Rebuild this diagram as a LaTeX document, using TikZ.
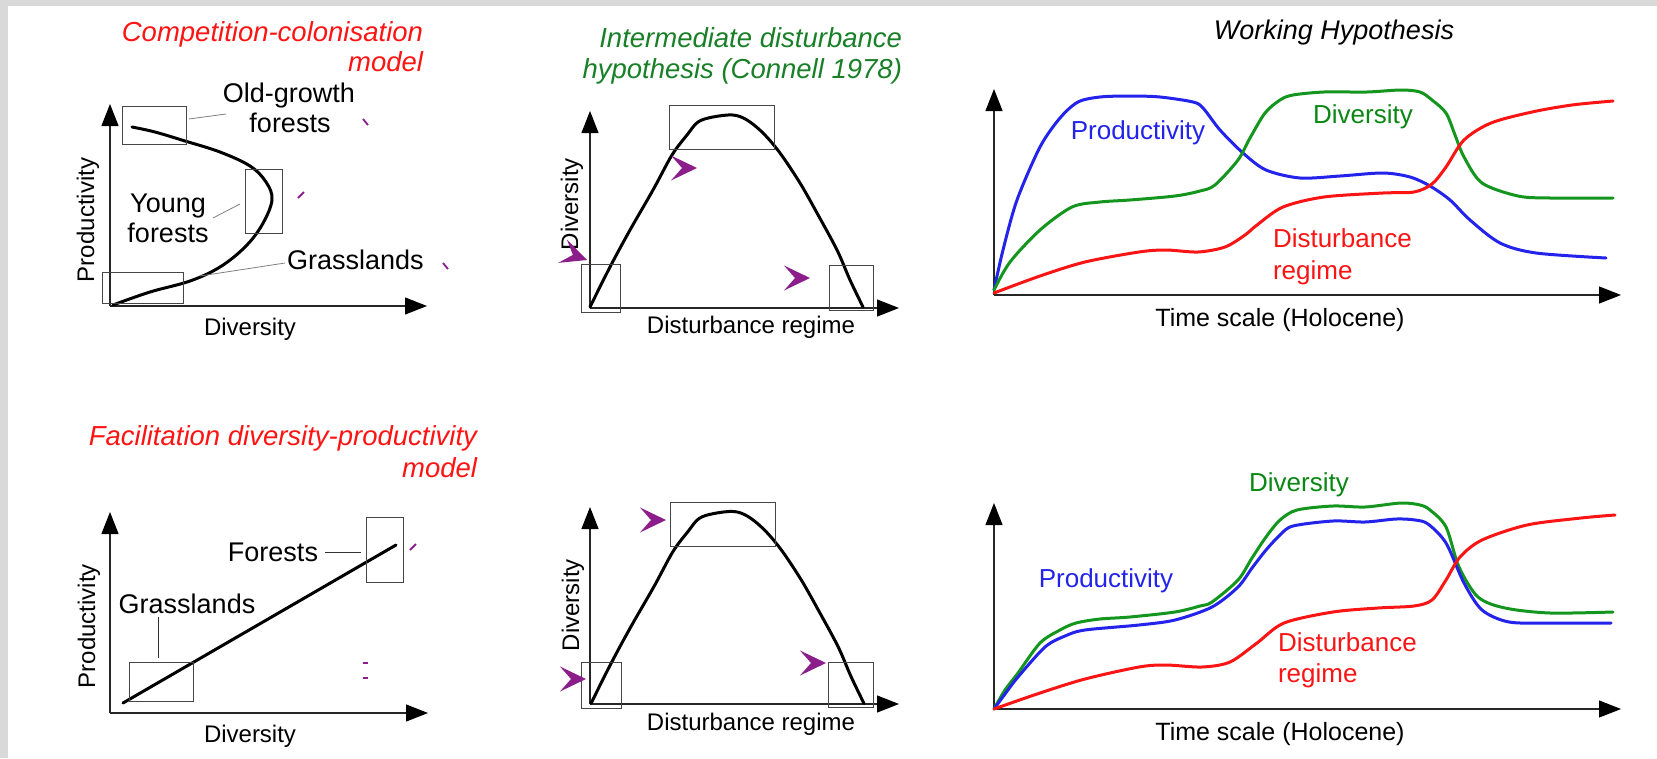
\documentclass[tikz,border=0pt]{standalone}
\usepackage{fontspec}
\setmainfont{Liberation Sans}
\usetikzlibrary{arrows.meta}
\definecolor{bord}{RGB}{217,217,217}
\definecolor{ttlred}{RGB}{255,20,20}
\definecolor{ttlgreen}{RGB}{25,128,40}
\definecolor{purp}{RGB}{140,30,140}
\definecolor{cblue}{RGB}{35,35,235}
\definecolor{cgreen}{RGB}{20,150,30}
\definecolor{cred}{RGB}{250,20,20}
\definecolor{tgreen}{RGB}{10,135,20}
\definecolor{boxgray}{RGB}{70,70,70}
\newcommand\mychev[3]{\fill[purp,shift={(#1,#2)},rotate=#3] (0,0) -- (-26,-12.5) -- (-15,0) -- (-26,12.5) -- cycle;}
\begin{document}
\begin{tikzpicture}[x=1pt,y=-1pt,
 txt/.style={inner sep=0pt,outer sep=0pt},
 ttl/.style={txt,font=\fontsize{27.5}{30}\selectfont\itshape},
 lab/.style={txt,font=\fontsize{27}{30}\selectfont},
 axl/.style={txt,font=\fontsize{24}{28}\selectfont},
 rlab/.style={txt,font=\fontsize{26}{30}\selectfont},
 axis/.style={line width=1.2pt,draw=black!85,-{Triangle[length=22pt,width=17pt,fill=black,color=black]}},
 curve/.style={line width=3pt,line join=round,line cap=round},
 hbox/.style={draw=boxgray,line width=1pt},
 leader/.style={draw=gray,line width=0.8pt},
 tickm/.style={draw=purp,line width=1.8pt}
]
\useasboundingbox (0,0) rectangle (1657,758);
\fill[white] (0,0) rectangle (1657,758);
\fill[bord] (0,0) rectangle (1657,5.7);
\fill[bord] (0,0) rectangle (8,758);

% ---------------- Panel 1: competition-colonisation ----------------
\node[ttl,text=ttlred,anchor=base east] (t1a) at (423,41) {Competition-colonisation};
\node[ttl,text=ttlred,anchor=base east] (t1b) at (423,71) {model};
\coordinate (o1) at (110,306);
\coordinate (y1) at (110,104);
\coordinate (x1) at (427,306);
\draw[axis] (o1) -- (y1);
\draw[axis] (o1) -- (x1);
\draw[curve] plot[smooth,tension=0.6] coordinates {(113,305) (150,292) (190,281) (220,267) (245,247) (262,225) (272,200) (266,182) (250,166) (220,152) (185,141) (155,132) (132,127)};
\draw[hbox] (122,106) rectangle (186,144);
\draw[hbox] (245,169) rectangle (282,233);
\draw[hbox] (102,272) rectangle (183,303);
\node[lab,anchor=base] (og1) at (289,102) {Old-growth};
\node[lab,anchor=base] (og2) at (290,132) {forests};
\node[lab,anchor=base] (yf1) at (168,212) {Young};
\node[lab,anchor=base] (yf2) at (168,242) {forests};
\node[lab,anchor=base west] (gl1) at (287,269) {Grasslands};
\coordinate (la1) at (189,119); \coordinate (la2) at (226,114);
\coordinate (lb1) at (213,218); \coordinate (lb2) at (240,204);
\coordinate (lc1) at (285,263); \coordinate (lc2) at (200,276);
\draw[leader] (la1) -- (la2);
\draw[leader] (lb1) -- (lb2);
\draw[leader] (lc1) -- (lc2);
\node[axl,rotate=90,anchor=base] (p1y) at (94,220) {Productivity};
\node[axl,anchor=base] (p1x) at (250,335) {Diversity};
\draw[tickm] (363,119) -- (368,125);
\draw[tickm] (298,198) -- (304,192);
\draw[tickm] (443,263) -- (448,269);

% ---------------- Panel 2: intermediate disturbance ----------------
\node[ttl,text=ttlgreen,anchor=base east] (t2a) at (902,47) {Intermediate disturbance};
\node[ttl,text=ttlgreen,anchor=base east] (t2b) at (902,78) {hypothesis (Connell 1978)};
\coordinate (o2) at (590,308);
\coordinate (y2) at (590,111);
\coordinate (x2) at (899,308);
\draw[axis] (o2) -- (y2);
\draw[axis] (o2) -- (x2);
\draw[curve] plot[smooth,tension=0.55] coordinates {(590,307) (610,267) (630,230) (653,190) (672,155) (687,135) (698,122) (713,117) (733,115) (747,120) (763,133) (780,153) (800,183) (817,213) (837,250) (850,280) (863,307)};
\draw[hbox] (669,105) rectangle (774,149);
\draw[hbox] (581,264) rectangle (620,312);
\draw[hbox] (829,265) rectangle (873,310);
\node[axl,rotate=90,anchor=base] (p2y) at (578,204) {Diversity};
\node[axl,anchor=base] (p2x) at (751,333) {Disturbance regime};
\mychev{697}{168}{0}
\mychev{587}{260}{-20}
\mychev{810}{278}{0}

% ---------------- Panel 3: working hypothesis ----------------
\node[txt,font=\fontsize{27}{30}\selectfont\itshape,anchor=base] (t3) at (1334,39) {Working Hypothesis};
\coordinate (o3) at (994,295);
\coordinate (y3) at (994,89);
\coordinate (x3) at (1621,295);
\draw[axis] (o3) -- (y3);
\draw[axis] (o3) -- (x3);
\draw[curve,cblue] plot[smooth,tension=0.5] coordinates {(994,290) (1003,250) (1017,200) (1040,147) (1060,118) (1078,102) (1100,97) (1130,96) (1160,97) (1193,102) (1203,108) (1220,130) (1243,153) (1266,170) (1300,178) (1340,176) (1383,173) (1410,177) (1430,186) (1450,200) (1470,220) (1500,243) (1536,253) (1606,258)};
\draw[curve,cgreen] plot[smooth,tension=0.5] coordinates {(994,290) (1010,262) (1040,230) (1072,207) (1100,202) (1130,200) (1175,196) (1200,191) (1215,185) (1238,160) (1250,138) (1265,113) (1280,100) (1293,95) (1324,92) (1367,92) (1401,90) (1420,92) (1432,100) (1446,113) (1455,135) (1464,157) (1482,183) (1518,196) (1550,198) (1613,198)};
\draw[curve,cred] plot[smooth,tension=0.5] coordinates {(994,293) (1040,276) (1085,262) (1139,252) (1166,250) (1198,252) (1225,247) (1245,235) (1257,225) (1283,207) (1324,197) (1383,193) (1414,192) (1432,184) (1446,167) (1464,140) (1491,123) (1532,112) (1572,105) (1613,101)};
\node[rlab,text=cblue,anchor=base] (r1p) at (1138,139) {Productivity};
\node[rlab,text=tgreen,anchor=base] (r1d) at (1363,123) {Diversity};
\node[rlab,text=cred,anchor=base west] (r1s) at (1273,247) {Disturbance};
\node[rlab,text=cred,anchor=base west] (r1r) at (1273,279) {regime};
\node[txt,font=\fontsize{25}{28}\selectfont,anchor=base] (r1x) at (1280,326) {Time scale (Holocene)};

% ---------------- Panel 4: facilitation ----------------
\node[ttl,text=ttlred,anchor=base east] (t4a) at (477,445) {Facilitation diversity-productivity};
\node[ttl,text=ttlred,anchor=base east] (t4b) at (477,477) {model};
\coordinate (o4) at (110,713);
\coordinate (y4) at (110,512);
\coordinate (x4) at (428,713);
\draw[axis] (o4) -- (y4);
\draw[axis] (o4) -- (x4);
\coordinate (ls) at (123,703);
\coordinate (le) at (396,545);
\draw[curve] (ls) -- (le);
\draw[hbox] (129,662) rectangle (193,701);
\draw[hbox] (366,517) rectangle (403,582);
\node[lab,anchor=base east] (fo) at (318,561) {Forests};
\node[lab,anchor=base] (gr) at (187,613) {Grasslands};
\coordinate (ld1) at (325,552); \coordinate (ld2) at (361,552);
\coordinate (le1) at (158,617); \coordinate (le2) at (158,658);
\draw[leader,draw=black!80] (ld1) -- (ld2);
\draw[leader,draw=black!80] (le1) -- (le2);
\node[axl,rotate=90,anchor=base] (p4y) at (95,626) {Productivity};
\node[axl,anchor=base] (p4x) at (250,742) {Diversity};
\draw[tickm] (410,550) -- (416,544);
\draw[tickm] (363,663) -- (368,663);
\draw[tickm] (363,678) -- (368,678);

% ---------------- Panel 5: disturbance (bottom) ----------------
\coordinate (o5) at (590,704);
\coordinate (y5) at (590,507);
\coordinate (x5) at (899,704);
\draw[axis] (o5) -- (y5);
\draw[axis] (o5) -- (x5);
\begin{scope}[shift={(1,396.5)}]
\draw[curve] plot[smooth,tension=0.55] coordinates {(590,307) (610,267) (630,230) (653,190) (672,155) (687,135) (698,122) (713,117) (733,115) (747,120) (763,133) (780,153) (800,183) (817,213) (837,250) (850,280) (863,307)};
\end{scope}
\draw[hbox] (670,502) rectangle (775,546);
\draw[hbox] (581,662) rectangle (621,708);
\draw[hbox] (828,662) rectangle (873,707);
\node[axl,rotate=90,anchor=base] (p5y) at (579,605) {Diversity};
\node[axl,anchor=base] (p5x) at (751,730) {Disturbance regime};
\mychev{666}{520}{0}
\mychev{586}{679}{0}
\mychev{826}{663}{0}

% ---------------- Panel 6: working hypothesis (bottom) ----------------
\coordinate (o6) at (994,709);
\coordinate (y6) at (994,503);
\coordinate (x6) at (1621,709);
\draw[axis] (o6) -- (y6);
\draw[axis] (o6) -- (x6);
\draw[curve,cgreen] plot[smooth,tension=0.5] coordinates {(994,709) (1005,690) (1018,673) (1040,643) (1060,630) (1076,623) (1100,619) (1130,617) (1175,612) (1200,606) (1212,602) (1238,580) (1252,558) (1266,537) (1280,520) (1297,510) (1333,506) (1365,507) (1401,503) (1420,505) (1430,510) (1446,527) (1459,567) (1478,597) (1505,608) (1550,613) (1613,612)};
\draw[curve,cblue] plot[smooth,tension=0.5] coordinates {(994,709) (1005,694) (1018,677) (1045,647) (1065,636) (1085,630) (1139,625) (1175,620) (1212,607) (1238,587) (1252,568) (1266,550) (1280,535) (1293,526) (1333,521) (1365,522) (1396,519) (1415,520) (1428,524) (1446,543) (1464,583) (1482,610) (1509,622) (1550,623) (1611,623)};
\draw[curve,cred] plot[smooth,tension=0.5] coordinates {(994,709) (1040,693) (1085,679) (1139,667) (1166,665) (1202,667) (1230,662) (1257,643) (1284,623) (1333,612) (1378,608) (1414,606) (1432,600) (1446,580) (1460,557) (1482,540) (1527,525) (1581,518) (1615,515)};
\node[rlab,text=tgreen,anchor=base] (r2d) at (1299,491) {Diversity};
\node[rlab,text=cblue,anchor=base] (r2p) at (1106,587) {Productivity};
\node[rlab,text=cred,anchor=base west] (r2s) at (1278,651) {Disturbance};
\node[rlab,text=cred,anchor=base west] (r2r) at (1278,682) {regime};
\node[txt,font=\fontsize{25}{28}\selectfont,anchor=base] (r2x) at (1280,740) {Time scale (Holocene)};
\end{tikzpicture}
\end{document}
